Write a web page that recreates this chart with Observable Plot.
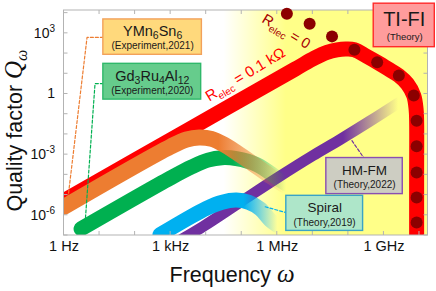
<!DOCTYPE html>
<html><head><meta charset="utf-8">
<script src="https://cdn.jsdelivr.net/npm/d3@7"></script>
<script src="https://cdn.jsdelivr.net/npm/@observablehq/plot@0.6"></script>
<style>
html,body{margin:0;padding:0;background:#fff;}
#chart svg{display:block;}
</style></head><body><div id="chart"></div>
<script>
// ---- data: log10(frequency / Hz) and log10(Q) ----
const redLogF = [0, 3.5, 6.5, 7.05, 7.4, 7.68, 7.92, 8.17, 8.5, 8.81, 9.12, 9.42, 9.66, 9.84, 9.905, 9.92, 9.92, 9.92];
const redLogQ = [-5.27, -1.77, 1.23, 1.78, 2.06, 2.18, 2.22, 2.19, 1.88, 1.57, 1.24, 0.91, 0.5, -0.08, -0.75, -1.32, -4, -7.6];
const dotLogF = [6.27, 6.91, 7.54, 8.17, 8.81, 9.42, 9.84, 9.92, 9.92, 9.92, 9.92, 9.92];
const dotLogQ = [3.97, 3.48, 2.85, 2.19, 1.57, 0.91, -0.08, -1.32, -2.59, -3.88, -5.12, -6.36];
const orangeLogF = [0, 3.0, 3.45, 3.8, 4.15, 4.5, 4.86, 5.3, 5.8, 6.2];
const orangeLogQ = [-5.58, -2.6, -2.25, -2.15, -2.22, -2.5, -2.9, -3.43, -4.05, -4.5];
const greenLogF = [0.48, 3.0, 3.6, 4.05, 4.45, 4.85, 5.43, 5.99, 6.25];
const greenLogQ = [-6.67, -4.15, -3.6, -3.27, -3.15, -3.2, -3.5, -4.15, -4.45];
const blueLogF = [2.7, 4.0, 4.45, 4.85, 5.2, 5.52, 5.8, 6.0];
const blueLogQ = [-6.96, -5.66, -5.35, -5.25, -5.36, -5.68, -6.23, -6.5];
const purpleLogF = [3.3, 3.92, 5.0, 6.0, 7.0, 7.77, 8.6, 9.4];
const purpleLogQ = [-7.2, -6.55, -5.3, -4.15, -3.05, -2.25, -1.35, -0.45];

const xTicks = [1, 1e3, 1e6, 1e9];
const xTickLabels = ["1 Hz", "1 kHz", "1 MHz", "1 GHz"];
const yTicks = [1e-6, 1e-3, 1, 1e3];
const yTickLabels = ["10^-6", "10^-3", "1", "10^3"];
const xDecades = [0,1,2,3,4,5,6,7,8,9,10];
const yDecades = [-7,-6,-5,-4,-3,-2,-1,0,1,2,3,4];

// annotation anchors (log10 units)
const orangeLeaderF = [1.107, 0.648, 0.113], orangeLeaderQ = [2.796, 2.796, -5.136];
const greenLeaderF = [1.107, 0.873, 0.592], greenLeaderQ = [0.516, 0.516, -6.43];
const purpleLeaderF = [8.10, 8.43], purpleLeaderQ = [-2.31, -3.15];
const blueLeaderF = [5.66, 6.25], blueLeaderQ = [-5.58, -5.87];

const boxes = [
  {f1: 1.107, f2: 3.879, q1: 1.939, q2: 3.688, fill: "#ffd97c", stroke: "#f2a15a"},
  {f1: 1.107, f2: 3.859, q1: -0.278, q2: 1.492, fill: "#66cc8c", stroke: "#2fb86a"},
  {f1: 8.713, f2: 10.431, q1: 2.315, q2: 4.467, fill: "#ff9c9c", stroke: "#ff2a2a"},
  {f1: 7.38, f2: 9.53, q1: -4.953, q2: -3.168, fill: "#cdcdc2", stroke: "#8a4fb0"},
  {f1: 6.254, f2: 8.414, q1: -6.773, q2: -5.037, fill: "#aee6c9", stroke: "#3aa3c6"}
];
const labels = [
  {text: "@YMN", lf: 2.493, lq: 3.094, size: 14.5},
  {text: "(Experiment,2021)", lf: 2.493, lq: 2.365, size: 10},
  {text: "@GD", lf: 2.484, lq: 0.853, size: 14.5},
  {text: "(Experiment,2020)", lf: 2.484, lq: 0.159, size: 10},
  {text: "TI-FI", lf: 9.572, lq: 3.68, size: 20},
  {text: "(Theory)", lf: 9.585, lq: 2.81, size: 9.5},
  {text: "HM-FM", lf: 8.456, lq: -3.80, size: 13.5},
  {text: "(Theory,2022)", lf: 8.456, lq: -4.50, size: 10},
  {text: "Spiral", lf: 7.338, lq: -5.60, size: 13.5},
  {text: "(Theory,2019)", lf: 7.33, lq: -6.37, size: 10}
];

const fades = [
  {id: "fadeO", color: "#ed7d31", from: 4.35, to: 6.2},
  {id: "fadeG", color: "#00b050", from: 4.75, to: 6.25},
  {id: "fadeB", color: "#00b0f0", from: 5.05, to: 6.0},
  {id: "fadeP", color: "#7030a0", from: 7.85, to: 9.4}
];

const pts = (lf, lq) => lf.map((f, i) => ({f: 10 ** f, q: 10 ** lq[i]}));
const NS = "http://www.w3.org/2000/svg";
function el(name, attrs) {
  const e = document.createElementNS(NS, name);
  for (const k in attrs) e.setAttribute(k, attrs[k]);
  return e;
}

function bgMark(index, scales, values, dims) {
  const g = el("g", {});
  const defs = el("defs", {});
  g.appendChild(defs);
  const grad = (id, lf0, lf1, stops) => {
    const lg = el("linearGradient", {id, gradientUnits: "userSpaceOnUse",
      x1: scales.x(10 ** lf0), x2: scales.x(10 ** lf1), y1: 0, y2: 0});
    for (const [o, c, op] of stops) lg.appendChild(el("stop", {offset: o, "stop-color": c, "stop-opacity": op}));
    defs.appendChild(lg);
  };
  grad("bgGrad", 4.5, 6.25, [[0, "#ffffff", 1], [1, "#ffff88", 1]]);
  for (const fd of fades) grad(fd.id, fd.from, fd.to, [[0, fd.color, 1], [1, fd.color, 0]]);
  const L = dims.marginLeft, T = dims.marginTop;
  const Wd = dims.width - dims.marginLeft - dims.marginRight;
  const Hd = dims.height - dims.marginTop - dims.marginBottom;
  g.appendChild(el("rect", {x: L, y: T, width: Wd, height: Hd, fill: "url(#bgGrad)"}));
  return g;
}

function frameMark(index, scales, values, dims) {
  const g = el("g", {stroke: "#b3b3b3", "stroke-width": 1, fill: "none"});
  const L = dims.marginLeft, R = dims.width - dims.marginRight;
  const T = dims.marginTop, B = dims.height - dims.marginBottom;
  for (const d of xDecades) {
    const px = scales.x(10 ** d);
    g.appendChild(el("line", {x1: px, x2: px, y1: B, y2: B - 4}));
    g.appendChild(el("line", {x1: px, x2: px, y1: T, y2: T + 4}));
  }
  for (const d of yDecades) {
    const py = scales.y(10 ** d);
    g.appendChild(el("line", {x1: L, x2: L + 4, y1: py, y2: py}));
    g.appendChild(el("line", {x1: R, x2: R - 4, y1: py, y2: py}));
  }
  g.appendChild(el("rect", {x: L, y: T, width: R - L, height: B - T}));
  return g;
}

const band = (lf, lq, stroke, w) => Plot.line(pts(lf, lq), {
  x: "f", y: "q", stroke, strokeWidth: w, curve: "catmull-rom", clip: true,
  strokeLinecap: "round", strokeLinejoin: "round"
});
const leader = (lf, lq, stroke) => Plot.line(pts(lf, lq), {
  x: "f", y: "q", stroke, strokeWidth: 1.2, strokeDasharray: "3,2"
});

const plot = Plot.plot({
  width: 436, height: 291,
  marginLeft: 63.5, marginRight: 8.5, marginTop: 10, marginBottom: 56,
  style: {fontFamily: "'Liberation Sans', Arial, sans-serif", background: "#fff", overflow: "visible"},
  x: {type: "log", domain: [1, 10 ** 10.24]},
  y: {type: "log", domain: [1e-7, 10 ** 4.13]},
  marks: [
    bgMark,
    band(redLogF, redLogQ, "#ff0000", 15),
    band(purpleLogF, purpleLogQ, "url(#fadeP)", 11),
    band(blueLogF, blueLogQ, "url(#fadeB)", 15),
    band(greenLogF, greenLogQ, "url(#fadeG)", 15),
    band(orangeLogF, orangeLogQ, "url(#fadeO)", 16),
    frameMark,
    Plot.dot(pts(dotLogF, dotLogQ), {x: "f", y: "q", r: 6, fill: "#8c0000"}),
    leader(orangeLeaderF, orangeLeaderQ, "#ed7d31"),
    leader(greenLeaderF, greenLeaderQ, "#00b050"),
    leader(purpleLeaderF, purpleLeaderQ, "#7030a0"),
    leader(blueLeaderF, blueLeaderQ, "#00b0f0"),
    ...boxes.map(b => Plot.rect([b], {
      x1: d => 10 ** d.f1, x2: d => 10 ** d.f2, y1: d => 10 ** d.q1, y2: d => 10 ** d.q2,
      fill: b.fill, stroke: b.stroke, strokeWidth: 1.4
    })),
    ...labels.map(l => Plot.text([l], {
      x: d => 10 ** d.lf, y: d => 10 ** d.lq, text: d => d.text,
      fontSize: l.size, fill: "#1a1a1a"
    })),
    Plot.text([{lf: 5.099, lq: 0.962}], {x: d => 10 ** d.lf, y: d => 10 ** d.lq, text: () => "@R01",
      rotate: -31, fontSize: 15, fill: "#ff0000"}),
    Plot.text([{lf: 6.25, lq: 3.09}], {x: d => 10 ** d.lf, y: d => 10 ** d.lq, text: () => "@R0",
      rotate: 31, fontSize: 14.5, fill: "#a80000"}),
    Plot.text([{lq: -1.81}], {y: d => 10 ** d.lq, frameAnchor: "left", dx: -49, rotate: -90,
      textAnchor: "middle", lineAnchor: "middle",
      text: () => "@YLAB", fontSize: 21.5, fill: "#111"}),
    Plot.text([{lf: 4.73}], {x: d => 10 ** d.lf, frameAnchor: "bottom", dy: 40,
      textAnchor: "middle", lineAnchor: "middle",
      text: () => "@XLAB", fontSize: 21.5, fill: "#111"}),
    Plot.axisX({ticks: xTicks, tickFormat: d => xTickLabels[xTicks.indexOf(d)], tickSize: 0,
      tickPadding: 5, fontSize: 14.5, label: null, fill: "#111"}),
    Plot.axisY({ticks: yTicks, tickFormat: d => yTickLabels[yTicks.indexOf(d)], tickSize: 0,
      tickPadding: 9, fontSize: 14, label: null, fill: "#111"})
  ]
});

const ser = "font-family=\"'Liberation Serif', 'Times New Roman', serif\" font-style=\"italic\"";
const rich = {
  "@YMN": 'YMn<tspan dy="3" font-size="10.5">6</tspan><tspan dy="-3">Sn</tspan><tspan dy="3" font-size="10.5">6</tspan>',
  "@GD": 'Gd<tspan dy="3" font-size="10.5">3</tspan><tspan dy="-3">Ru</tspan><tspan dy="3" font-size="10.5">4</tspan><tspan dy="-3">Al</tspan><tspan dy="3" font-size="10.5">12</tspan>',
  "@R01": 'R<tspan dy="4" font-size="10">elec</tspan><tspan dy="-4"> = 0.1 kΩ</tspan>',
  "@R0": 'R<tspan dy="4" font-size="10">elec</tspan><tspan dy="-4"> = 0</tspan>',
  "@YLAB": 'Quality factor <tspan ' + ser + ' font-size="25">Q</tspan><tspan ' + ser + ' font-size="16" dy="5">ω</tspan>',
  "@XLAB": 'Frequency <tspan ' + ser + ' font-size="25">ω</tspan>',
  "10^-6": '10<tspan dy="-6" font-size="10">-6</tspan>',
  "10^-3": '10<tspan dy="-6" font-size="10">-3</tspan>',
  "10^3": '10<tspan dy="-6" font-size="10">3</tspan>'
};
plot.querySelectorAll("text").forEach(t => {
  const k = t.textContent;
  if (rich[k] !== undefined) t.innerHTML = rich[k];
});
document.getElementById("chart").appendChild(plot);
</script>
</body></html>
